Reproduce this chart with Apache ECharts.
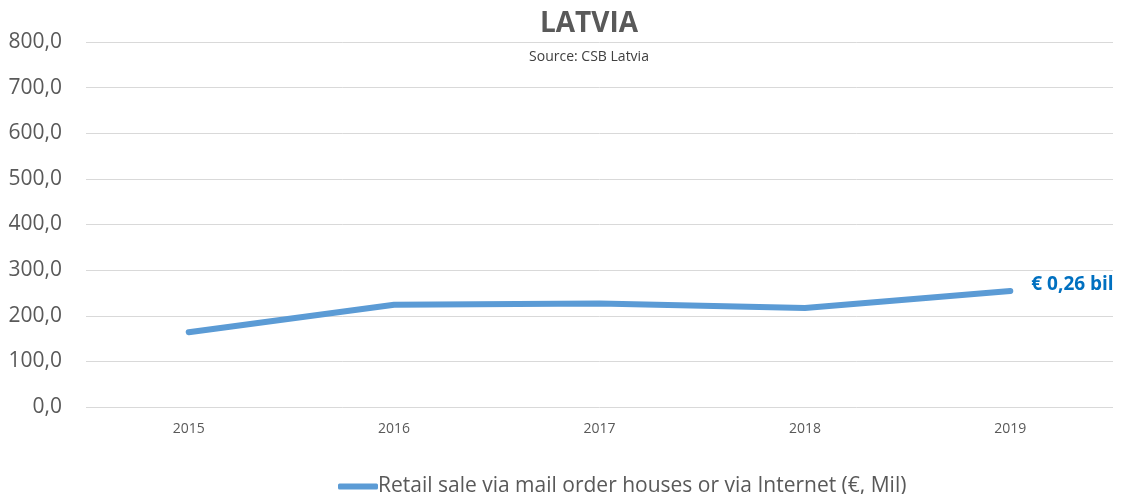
<!DOCTYPE html>
<html>
<head>
<meta charset="utf-8">
<script src="https://cdn.jsdelivr.net/npm/echarts@6/dist/echarts.min.js"></script>
<style>
  html, body { margin: 0; padding: 0; background: #fff; }
  #chart { width: 1121px; height: 494px; }
</style>
</head>
<body>
<div id="chart"></div>
<script>
var years = ['2015', '2016', '2017', '2018', '2019'];
var retailValues = [164, 224, 227, 217, 254];
var lastLabel = '€ 0,26 bil';
var seriesName = 'Retail sale via mail order houses or via Internet (€, Mil)';

var chart = echarts.init(document.getElementById('chart'));
var fontFamily = '"Open Sans", "Noto Sans", sans-serif';

var option = {
  backgroundColor: '#ffffff',
  animation: false,
  title: {
    text: 'LATVIA',
    subtext: 'Source: CSB Latvia',
    left: 584,
    textAlign: 'center',
    top: 5,
    itemGap: 12,
    textStyle: {
      fontSize: 28,
      fontWeight: 'bold',
      color: '#595959',
      fontFamily: fontFamily
    },
    subtextStyle: {
      fontSize: 14,
      color: '#404040',
      fontFamily: fontFamily
    }
  },
  grid: {
    left: 86,
    right: 8,
    top: 42,
    bottom: 87,
    containLabel: false
  },
  legend: {
    top: 471,
    left: 333,
    itemWidth: 40,
    itemHeight: 6,
    itemGap: 0,
    icon: 'roundRect',
    textStyle: {
      fontSize: 21,
      color: '#595959',
      fontFamily: fontFamily,
      padding: [0, 0, 0, -5]
    },
    data: [seriesName]
  },
  xAxis: {
    type: 'category',
    data: years,
    boundaryGap: true,
    axisLine: { show: false },
    axisTick: { show: false },
    axisLabel: {
      fontSize: 14,
      color: '#595959',
      margin: 15,
      fontFamily: fontFamily
    }
  },
  yAxis: {
    type: 'value',
    min: 0,
    max: 800,
    interval: 100,
    axisLine: { show: false },
    axisTick: { show: false },
    splitLine: { lineStyle: { color: '#d9d9d9', width: 1 } },
    axisLabel: {
      fontSize: 21,
      color: '#595959',
      margin: 24,
      fontFamily: fontFamily,
      formatter: function (v) { return v.toFixed(1).replace('.', ','); }
    }
  },
  series: [{
    name: seriesName,
    type: 'line',
    data: retailValues,
    symbol: 'none',
    color: '#5B9BD5',
    lineStyle: { width: 6, color: '#5B9BD5', cap: 'round', join: 'round' },
    endLabel: {
      show: true,
      formatter: lastLabel,
      distance: 21,
      color: '#0070C0',
      fontWeight: 'bold',
      fontSize: 19,
      fontFamily: fontFamily,
      offset: [0, -7]
    }
  }]
};

chart.setOption(option);
</script>
</body>
</html>
